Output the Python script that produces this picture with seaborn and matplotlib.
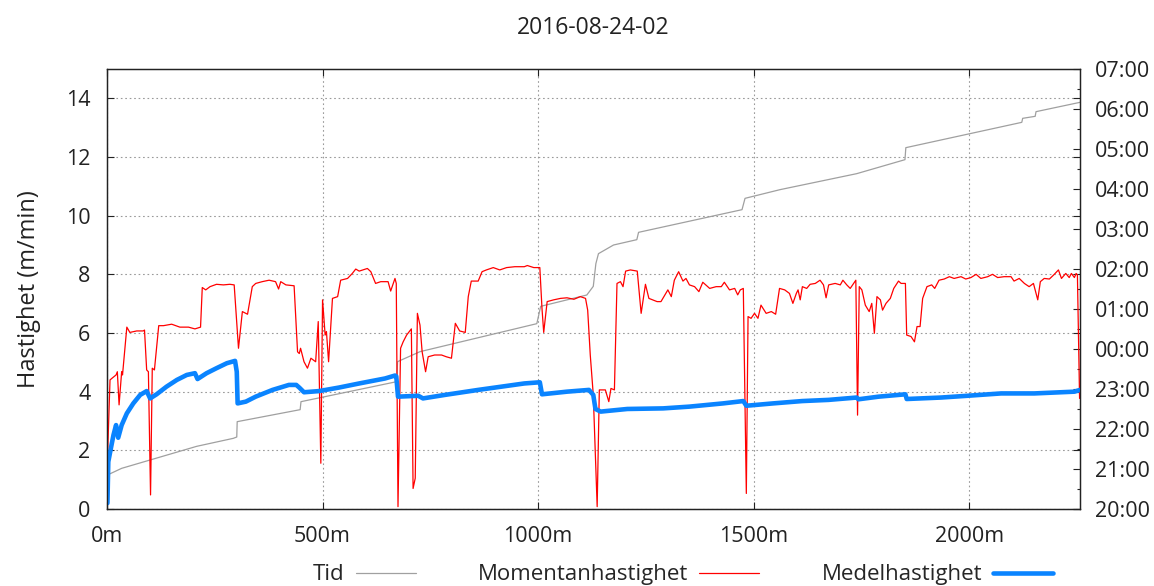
import matplotlib
matplotlib.use("Agg")
import matplotlib.pyplot as plt
from matplotlib.lines import Line2D
from matplotlib.ticker import MultipleLocator, FixedLocator
import seaborn as sns
import pandas as pd

# ---------------- data ----------------
title = "2016-08-24-02"
ylabel = "Hastighet (m/min)"
series_names = ["Tid", "Momentanhastighet", "Medelhastighet"]

x_ticks = [0, 500, 1000, 1500, 2000]
y_ticks = [0, 2, 4, 6, 8, 10, 12, 14]
time_ticks = ["20:00", "21:00", "22:00", "23:00", "00:00", "01:00", "02:00",
              "03:00", "04:00", "05:00", "06:00", "07:00"]

# Tid (clock time) vs distance
tid_dist = [1, 34, 208, 293, 301, 302, 448, 450, 672, 674, 726, 997, 1006,
            1113, 1128, 1134, 1140, 1175, 1229, 1233, 1473, 1480, 1561, 1739,
            1851, 1853, 2122, 2124, 2153, 2155, 2257]
tid = ["20:51", "21:01", "21:34", "21:46", "21:48", "22:11", "22:29", "22:41",
       "23:11", "23:41", "23:56", "00:38", "01:04", "01:21", "01:34", "02:08",
       "02:23", "02:36", "02:44", "02:55", "03:29", "03:46", "03:59", "04:23",
       "04:44", "05:02", "05:40", "05:46", "05:49", "05:56", "06:10"]

# Momentanhastighet (instantaneous speed)
mom_dist = [1, 7, 11, 21, 24, 28, 34, 36, 46, 53, 69, 84, 87, 92, 96, 101, 105,
            110, 120, 131, 150, 169, 189, 204, 217, 221, 229, 239, 254, 270, 285,
            295, 299, 305, 314, 326, 337, 345, 360, 376, 391, 398, 403, 415, 434,
            442, 446, 449, 457, 465, 473, 484, 490, 496, 500, 506, 509, 514, 523,
            535, 542, 558, 569, 577, 585, 604, 612, 623, 635, 652, 658, 668, 671,
            675, 681, 687, 695, 706, 710, 715, 720, 726, 731, 739, 745, 760, 776,
            787, 799, 808, 818, 831, 838, 845, 861, 870, 880, 896, 911, 927, 946,
            968, 975, 990, 1004, 1009, 1013, 1021, 1036, 1052, 1067, 1083, 1098,
            1110, 1115, 1121, 1128, 1137, 1142, 1156, 1164, 1169, 1177, 1183, 1191,
            1197, 1203, 1214, 1230, 1239, 1249, 1257, 1276, 1285, 1301, 1309, 1316,
            1326, 1336, 1343, 1351, 1363, 1373, 1382, 1398, 1413, 1425, 1432, 1444,
            1456, 1463, 1469, 1476, 1483, 1487, 1494, 1502, 1510, 1517, 1529, 1541,
            1551, 1560, 1572, 1583, 1591, 1599, 1603, 1608, 1613, 1623, 1631, 1643,
            1654, 1662, 1668, 1674, 1689, 1701, 1707, 1716, 1724, 1732, 1737, 1741,
            1745, 1751, 1759, 1768, 1774, 1780, 1786, 1794, 1799, 1807, 1817, 1825,
            1836, 1842, 1852, 1855, 1865, 1873, 1879, 1886, 1892, 1902, 1913, 1920,
            1930, 1942, 1954, 1965, 1981, 1992, 2004, 2016, 2027, 2043, 2054, 2066,
            2081, 2097, 2104, 2116, 2128, 2139, 2149, 2159, 2165, 2174, 2186, 2196,
            2207, 2214, 2224, 2232, 2237, 2244, 2248, 2251, 2256]
moment = [1.7, 4.4, 4.45, 4.57, 4.68, 3.55, 4.68, 4.57, 6.2, 6.02, 6.07, 6.07,
          6.1, 4.74, 4.68, 0.48, 4.8, 4.74, 6.25, 6.25, 6.3, 6.2, 6.2, 6.14, 6.2,
          7.55, 7.47, 7.58, 7.66, 7.64, 7.66, 7.64, 6.78, 5.48, 6.73, 6.64, 7.58,
          7.69, 7.75, 7.8, 7.75, 7.5, 7.75, 7.64, 7.61, 5.36, 5.3, 5.48, 5.02,
          4.8, 5.14, 5.02, 6.39, 1.56, 7.13, 5.93, 6.05, 5.02, 7.18, 7.24, 7.8,
          7.86, 8.03, 8.18, 8.11, 8.2, 8.09, 7.69, 7.75, 7.75, 7.43, 7.86, 7.69,
          0.08, 5.48, 5.7, 5.93, 6.14, 0.7, 1.05, 6.67, 6.27, 5.36, 4.68, 5.19,
          5.25, 5.25, 5.19, 5.14, 6.33, 6.07, 6.02, 7.24, 7.77, 7.77, 8.09, 8.15,
          8.23, 8.15, 8.23, 8.26, 8.26, 8.3, 8.23, 8.23, 6.84, 6.02, 7.07, 7.13,
          7.18, 7.2, 7.15, 7.24, 7.18, 6.78, 5.25, 3.89, 0.08, 4.06, 4.06, 3.66,
          4.11, 4.06, 7.69, 7.75, 7.58, 8.11, 8.15, 8.11, 6.67, 7.66, 7.18, 7.07,
          7.07, 7.47, 7.24, 7.8, 8.09, 7.77, 7.86, 7.64, 7.58, 7.41, 7.73, 7.52,
          7.58, 7.58, 7.73, 7.47, 7.52, 7.3, 7.47, 7.52, 0.53, 6.56, 6.5, 6.67,
          6.5, 6.95, 6.67, 6.73, 6.64, 7.52, 7.47, 7.35, 7.01, 7.35, 7.47, 7.13,
          7.58, 7.52, 7.66, 7.69, 7.8, 7.64, 7.2, 7.64, 7.69, 7.64, 7.8, 7.64,
          7.52, 7.69, 7.8, 3.2, 7.58, 7.47, 6.95, 6.73, 7.01, 5.99, 7.24, 7.13,
          6.78, 7.01, 7.18, 7.52, 7.77, 7.69, 7.69, 5.93, 5.88, 5.7, 6.22, 6.22,
          7.18, 7.58, 7.64, 7.52, 7.8, 7.84, 7.92, 7.86, 7.92, 7.84, 7.89, 8.0,
          7.86, 7.92, 8.0, 7.89, 7.92, 7.92, 7.77, 7.86, 7.69, 7.58, 7.69, 7.13,
          7.75, 7.86, 7.84, 7.98, 8.15, 7.86, 8.03, 7.89, 8.03, 7.89, 8.03, 7.98,
          3.77]

# Medelhastighet (average speed)
med_dist = [1, 3, 9, 15, 21, 26, 34, 46, 61, 77, 92, 100, 115, 138, 162, 185,
            204, 210, 231, 254, 278, 297, 301, 303, 322, 345, 384, 422, 439, 446,
            457, 492, 538, 585, 645, 668, 671, 675, 722, 733, 784, 861, 968, 1004,
            1009, 1067, 1118, 1128, 1133, 1145, 1207, 1290, 1351, 1429, 1476, 1483,
            1545, 1613, 1674, 1739, 1743, 1790, 1852, 1855, 1935, 1996, 2074, 2151,
            2244, 2257]
medel = [0.2, 1.61, 2.07, 2.52, 2.86, 2.43, 2.86, 3.26, 3.6, 3.89, 4.02, 3.77,
         3.91, 4.17, 4.4, 4.57, 4.63, 4.43, 4.63, 4.8, 4.97, 5.05, 4.68, 3.6,
         3.66, 3.83, 4.06, 4.23, 4.23, 4.14, 3.98, 4.02, 4.14, 4.28, 4.45, 4.55,
         4.52, 3.83, 3.86, 3.77, 3.89, 4.06, 4.28, 4.32, 3.91, 4.0, 4.06, 3.89,
         3.41, 3.32, 3.41, 3.43, 3.49, 3.6, 3.68, 3.52, 3.6, 3.68, 3.72, 3.8,
         3.74, 3.83, 3.91, 3.75, 3.8, 3.86, 3.94, 3.94, 4.0, 4.06]


def to_hours(s):
    h, m = s.split(":")
    h = int(h)
    if h < 12:
        h += 24
    return h + int(m) / 60.0


df_tid = pd.DataFrame({"dist": tid_dist, "hours": [to_hours(t) for t in tid]})
df_mom = pd.DataFrame({"dist": mom_dist, "speed": moment})
df_med = pd.DataFrame({"dist": med_dist, "speed": medel})

# ---------------- styling ----------------
sns.set_style("ticks")
plt.rcParams["font.family"] = ["Open Sans", "DejaVu Sans"]
plt.rcParams["xtick.direction"] = "in"
plt.rcParams["ytick.direction"] = "in"

FS = 15.5
C_GRAY = "#a0a0a0"
C_RED = "#ff0000"
C_BLUE = "#0a84ff"
C_TXT = "#222222"

fig = plt.figure(figsize=(11.54, 5.86), dpi=100)
ax = fig.add_axes([107 / 1154, 1 - 509 / 586, (1080 - 107) / 1154, (509 - 69) / 586])
ax2 = ax.twinx()

sns.lineplot(data=df_tid, x="dist", y="hours", ax=ax2, color=C_GRAY,
             linewidth=0.9, sort=False, estimator=None)
sns.lineplot(data=df_mom, x="dist", y="speed", ax=ax, color=C_RED,
             linewidth=0.9, sort=False, estimator=None)
sns.lineplot(data=df_med, x="dist", y="speed", ax=ax, color=C_BLUE,
             linewidth=3.3, sort=False, estimator=None)

ax.set_zorder(ax2.get_zorder() + 1)
ax.patch.set_visible(False)

ax.set_xlim(0, 2257)
ax.set_ylim(0, 15)
ax2.set_ylim(20, 31)

ax.xaxis.set_major_locator(FixedLocator(x_ticks))
ax.set_xticklabels([f"{v}m" for v in x_ticks])
ax.yaxis.set_major_locator(FixedLocator(y_ticks))
ax.set_yticklabels([str(v) for v in y_ticks])

hour_vals = [20 + i for i in range(len(time_ticks))]
ax2.yaxis.set_major_locator(FixedLocator(hour_vals))
ax2.set_yticklabels(time_ticks)
ax2.yaxis.set_minor_locator(MultipleLocator(0.5))

ax.grid(True, which="major", color="#9a9a9a", linestyle=(0, (1.5, 2.5)), linewidth=0.8)
ax2.grid(False)

ax.tick_params(axis="x", which="major", direction="in", length=5, width=0.8,
               labelsize=FS, colors=C_TXT, top=True, pad=12)
ax.tick_params(axis="y", which="major", direction="in", length=5, width=0.8,
               labelsize=FS, colors=C_TXT, right=True, labelright=False, pad=12)
ax2.tick_params(axis="y", which="major", direction="in", length=5, width=0.8,
                labelsize=FS, colors=C_TXT, pad=11)
ax2.tick_params(axis="y", which="minor", direction="in", length=2.5, width=0.8)

for a in (ax, ax2):
    a.set_xlabel("")
    for sp in a.spines.values():
        sp.set_color(C_TXT)
        sp.set_linewidth(0.9)
ax2.set_ylabel("")
ax.set_ylabel(ylabel, fontsize=17, color=C_TXT, labelpad=18)
ax.set_title(title, fontsize=16.5, color=C_TXT, pad=25)

handles = [Line2D([], [], color=C_GRAY, linewidth=0.9),
           Line2D([], [], color=C_RED, linewidth=0.9),
           Line2D([], [], color=C_BLUE, linewidth=3.3)]
fig.legend(handles, series_names, loc="center", bbox_to_anchor=(0.592, 0.019),
           ncol=3, markerfirst=False, frameon=False, fontsize=16,
           handlelength=2.7, handletextpad=0.5, columnspacing=2.8)

fig.savefig("out.png", dpi=100)
